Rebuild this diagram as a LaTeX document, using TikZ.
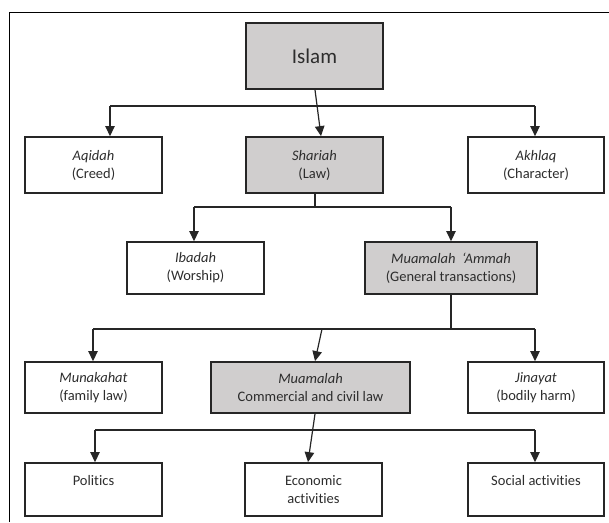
\documentclass[tikz,border=0pt]{standalone}
\usepackage{fontspec}
\setmainfont{Carlito}[Ligatures={NoCommon}]
\usetikzlibrary{arrows.meta,calc}
\definecolor{boxgray}{RGB}{208,206,206}
\definecolor{txt}{RGB}{45,45,45}
\tikzset{
  box/.style={draw=black!85, line width=1.8pt, rectangle, align=center, inner sep=0pt,
     font=\fontsize{14.5}{18}\selectfont, text=txt},
  greybox/.style={box, fill=boxgray},
  conn/.style={line width=1.2pt, draw=black!85},
  arr/.style={conn, -{Triangle[length=10pt,width=9.5pt]}},
}
\begin{document}
\begin{tikzpicture}[x=1pt,y=-1pt]
\useasboundingbox (0,0) rectangle (609,522);
% frame
\draw[line width=0.9pt] (9.5,522) -- (9.5,12.5) -- (609,12.5);
% nodes
\node[greybox, minimum width=137pt, minimum height=66pt, font=\fontsize{21}{24}\selectfont] (islam) at (314.5,56) {Islam};
\node[box, minimum width=137pt, minimum height=56pt] (aqidah) at (93.5,165) {\textit{Aqidah}\\(Creed)};
\node[greybox, minimum width=137pt, minimum height=56pt] (shariah) at (314.5,165) {\textit{Shariah}\\(Law)};
\node[box, minimum width=136pt, minimum height=56pt] (akhlaq) at (536,165) {\textit{Akhlaq}\\(Character)};
\node[box, minimum width=137pt, minimum height=52pt] (ibadah) at (195.5,268) {\textit{Ibadah}\\(Worship)};
\node[greybox, minimum width=172pt, minimum height=52pt] (mamma) at (451,268) {\textit{Muamalah~~\char"60 Ammah}\\(General transactions)};
\node[box, minimum width=137pt, minimum height=51pt] (munakahat) at (93.5,387.5) {\textit{Munakahat}\\(family law)};
\node[greybox, minimum width=199pt, minimum height=51pt] (muamalah) at (310.5,387.5) {\textit{Muamalah}\\Commercial and civil law};
\node[box, minimum width=136pt, minimum height=51pt] (jinayat) at (536,387.5) {\textit{Jinayat}\\(bodily harm)};
\node[box, minimum width=137pt, minimum height=53pt] (politics) at (93.5,489.5) {Politics\\~};
\node[box, minimum width=137pt, minimum height=53pt] (economic) at (313.5,489.5) {Economic\\activities};
\node[box, minimum width=136pt, minimum height=53pt] (social) at (536,489.5) {Social activities\\~};
% junction coordinates
\coordinate (j1l) at (110,106);
\coordinate (j1r) at (535,106);
\coordinate (j2c) at (315,207);
\coordinate (j2l) at (194,207);
\coordinate (j2r) at (451,207);
\coordinate (j3c) at (451,329);
\coordinate (j3l) at (93,329);
\coordinate (j3r) at (535,329);
\coordinate (j3m) at (322,329);
\coordinate (j4l) at (95,430);
\coordinate (j4r) at (535,430);
% level 1
\draw[conn] (j1l) -- (j1r);
\draw[arr] (j1l) -- (j1l |- aqidah.north);
\draw[arr] (j1r) -- (j1r |- akhlaq.north);
\draw[arr] ([xshift=0.5pt]islam.south) -- ([xshift=6.5pt]shariah.north);
% level 2
\draw[conn] (shariah.south -| j2c) -- (j2c);
\draw[conn] (j2l) -- (j2r);
\draw[arr] (j2l) -- (j2l |- ibadah.north);
\draw[arr] (j2r) -- (j2r |- mamma.north);
% level 3
\draw[conn] (mamma.south) -- (j3c);
\draw[conn] (j3l) -- (j3r);
\draw[arr] (j3l) -- (j3l |- munakahat.north);
\draw[arr] (j3r) -- (j3r |- jinayat.north);
\draw[arr] (j3m) -- ([xshift=4.5pt]muamalah.north);
% level 4
\draw[conn] (j4l) -- (j4r);
\draw[arr] (j4l) -- (j4l |- politics.north);
\draw[arr] (j4r) -- (j4r |- social.north);
\draw[arr] ([xshift=4.5pt]muamalah.south) -- ([xshift=-5.5pt]economic.north);
\end{tikzpicture}
\end{document}
